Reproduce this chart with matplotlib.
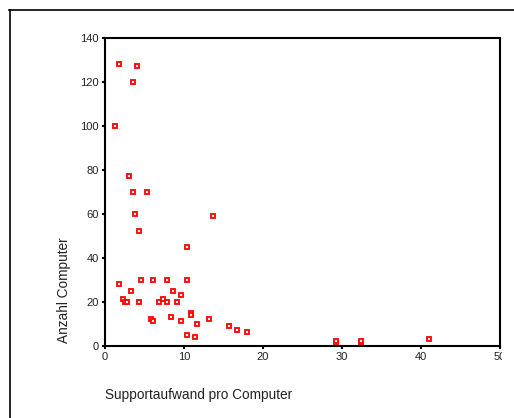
import matplotlib
matplotlib.use("Agg")
import matplotlib.pyplot as plt
from matplotlib.lines import Line2D
from matplotlib.transforms import Bbox

plt.rcParams['font.family'] = ['Liberation Sans', 'DejaVu Sans']

support = [1.81, 4.09, 3.58, 1.30, 3.08, 3.58, 5.35, 3.84, 13.7,
           4.34, 10.38, 1.81, 4.6, 6.1, 7.9, 10.38, 3.29, 8.65, 9.66,
           2.32, 2.57, 2.82, 4.34, 6.87, 7.38, 7.87, 9.14,
           5.82, 6.1, 8.4, 10.9, 10.9, 9.66, 11.65, 13.2, 10.38, 11.43,
           15.7, 16.7, 18.0, 29.2, 29.2, 32.4, 32.4, 41.05]
anzahl = [128, 127, 120, 100, 77, 70, 70, 60, 59,
          52, 45, 28, 30, 30, 30, 30, 25, 25, 23,
          21, 20, 20, 20, 20, 21, 20, 20,
          12, 11, 13, 15, 14, 11, 10, 12, 5, 4,
          9, 7, 6, 1, 2, 1, 2, 3]

x_ticks = [0, 10, 20, 30, 40, 50]
y_ticks = [0, 20, 40, 60, 80, 100, 120, 140]

W, H = 514, 418
fig = plt.figure(figsize=(W / 100, H / 100), dpi=100)
ax = fig.add_axes([105 / W, (H - 345.5) / H, 395 / W, 308 / H])

ax.plot(support, anzahl, linestyle='none', marker='s', markersize=3.4,
        markerfacecolor='white', markeredgecolor='#ff0000', markeredgewidth=1.3,
        clip_on=False)

ax.set_xlim(0, 50)
ax.set_ylim(0, 140)
ax.set_xticks(x_ticks)
ax.set_yticks(y_ticks)
for s in ax.spines.values():
    s.set_linewidth(1.5)
    s.set_color('black')
ax.tick_params(axis='both', direction='out', length=2.5, width=1.5,
               labelsize=8, colors='black', labelcolor='#222222', pad=2)

ax.set_xlabel('Supportaufwand pro Computer', fontsize=9.8, color='#222222')
ax.xaxis.set_label_coords(0.0, -0.138)
ax.xaxis.label.set_horizontalalignment('left')
ax.set_ylabel('Anzahl Computer', fontsize=9.8, color='#222222')
ax.yaxis.set_label_coords(-0.104, 0.18)
ax.yaxis.label.set_verticalalignment('center')

# clip last x tick label like the reference
fig.canvas.draw()
for lab in ax.get_xticklabels():
    if lab.get_text() == '50':
        lab.set_clip_on(True)
        lab.set_clip_box(Bbox.from_extents(0, 0, 502, H))

# outer frame (only left and top edges visible)
fig.add_artist(Line2D([9.5 / W, 9.5 / W], [0, (H - 9.5) / H], transform=fig.transFigure,
                      color='black', linewidth=1.2))
fig.add_artist(Line2D([9 / W, 1], [(H - 9.5) / H, (H - 9.5) / H], transform=fig.transFigure,
                      color='black', linewidth=1.2))

fig.savefig('out.png', dpi=100)
